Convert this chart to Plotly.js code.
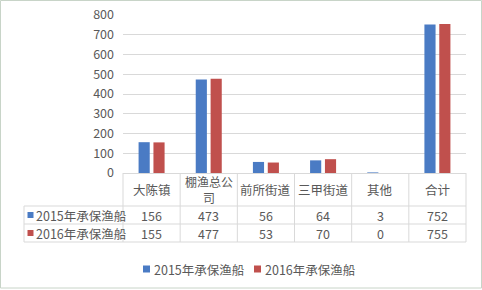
<!DOCTYPE html>
<html><head><meta charset="utf-8">
<script src="https://cdn.plot.ly/plotly-3.0.1.min.js"></script>
<style>html,body{margin:0;padding:0;background:#fff}#c{width:482px;height:290px}</style>
</head><body><div id="c"></div>
<script>
const categories = ['大陈镇', '棚渔总公司', '前所街道', '三甲街道', '其他', '合计'];
const headerLabels = [['大陈镇'], ['棚渔总公', '司'], ['前所街道'], ['三甲街道'], ['其他'], ['合计']];
const seriesNames = ['2015年承保渔船', '2016年承保渔船'];
const values2015 = [156, 473, 56, 64, 3, 752];
const values2016 = [155, 477, 53, 70, 0, 755];
const colors = ['#4a7bc4', '#c0504d'];

const W = 482, H = 290;
const L = 123, R = 466, T = 15, B = 173;
const px = x => (x - L) / (R - L);
const py = y => (B - y) / (B - T);
const font = 'Noto Sans CJK SC, sans-serif';
const txt = '#595959';
const line = '#d9d9d9';
const fs = 12.5;

const shapes = [];
const annotations = [];
const rowY = [206, 224, 242];
const colW = (R - L) / categories.length;
rowY.forEach(y => shapes.push({type:'line', xref:'paper', yref:'paper', x0:px(24), x1:px(R), y0:py(y), y1:py(y), line:{color:line, width:1}}));
for (let i = 0; i <= categories.length; i++) {
  const x = L + i * colW;
  shapes.push({type:'line', xref:'paper', yref:'paper', x0:px(x), x1:px(x), y0:py(B), y1:py(242), line:{color:line, width:1}});
}
shapes.push({type:'line', xref:'paper', yref:'paper', x0:px(24), x1:px(24), y0:py(206), y1:py(242), line:{color:line, width:1}});
shapes.push({type:'rect', xref:'paper', yref:'paper', x0:px(0.5), x1:px(481.5), y0:py(0.5), y1:py(288), line:{color:'#c8d4c8', width:1}});

headerLabels.forEach((lines, i) => {
  const ys = lines.length === 1 ? [190] : [181.5, 197.5];
  lines.forEach((t, k) => annotations.push({xref:'paper', yref:'paper', x:px(L + (i + 0.5) * colW), y:py(ys[k]), text:t, showarrow:false,
    xanchor:'center', yanchor:'middle', font:{family:font, size:lines.length === 1 ? fs : 12, color:txt}}));
});
[values2015, values2016].forEach((vals, r) => {
  const yc = (rowY[r] + rowY[r + 1]) / 2;
  shapes.push({type:'rect', xref:'paper', yref:'paper', x0:px(27.5), x1:px(33.5), y0:py(yc - 3), y1:py(yc + 3), fillcolor:colors[r], line:{width:0}});
  annotations.push({xref:'paper', yref:'paper', x:px(34), y:py(yc), text:seriesNames[r], showarrow:false,
    xanchor:'left', yanchor:'middle', font:{family:font, size:fs, color:txt}});
  vals.forEach((v, i) => {
    annotations.push({xref:'paper', yref:'paper', x:px(L + (i + 0.5) * colW), y:py(yc), text:String(v), showarrow:false,
      xanchor:'center', yanchor:'middle', font:{family:font, size:fs, color:txt}});
  });
});
const legX = [143, 254];
seriesNames.forEach((n, i) => {
  shapes.push({type:'rect', xref:'paper', yref:'paper', x0:px(legX[i]), x1:px(legX[i] + 7), y0:py(265.5), y1:py(272.5), fillcolor:colors[i], line:{width:0}});
  annotations.push({xref:'paper', yref:'paper', x:px(legX[i] + 9), y:py(269), text:n, showarrow:false,
    xanchor:'left', yanchor:'middle', font:{family:font, size:fs, color:txt}});
});

const data = [values2015, values2016].map((v, i) => ({
  type:'bar', x:categories, y:v, name:seriesNames[i], marker:{color:colors[i]}
}));

const layout = {
  width:W, height:H,
  margin:{l:L, r:W - R, t:T, b:H - B, pad:0},
  paper_bgcolor:'#fff', plot_bgcolor:'#fff',
  bargap:0.48, bargroupgap:0.25,
  font:{family:font, color:txt, size:12},
  xaxis:{showticklabels:false, ticks:'', showgrid:false, showline:true, linecolor:line, linewidth:1, zeroline:false, fixedrange:true},
  yaxis:{range:[0, 800], dtick:100, tickfont:{family:font, size:fs, color:txt}, gridcolor:line, gridwidth:1,
    zeroline:false, showline:false, ticks:'', ticklabelstandoff:8, fixedrange:true},
  showlegend:false,
  shapes:shapes, annotations:annotations
};
Plotly.newPlot('c', data, layout, {staticPlot:true, displayModeBar:false});
</script></body></html>
